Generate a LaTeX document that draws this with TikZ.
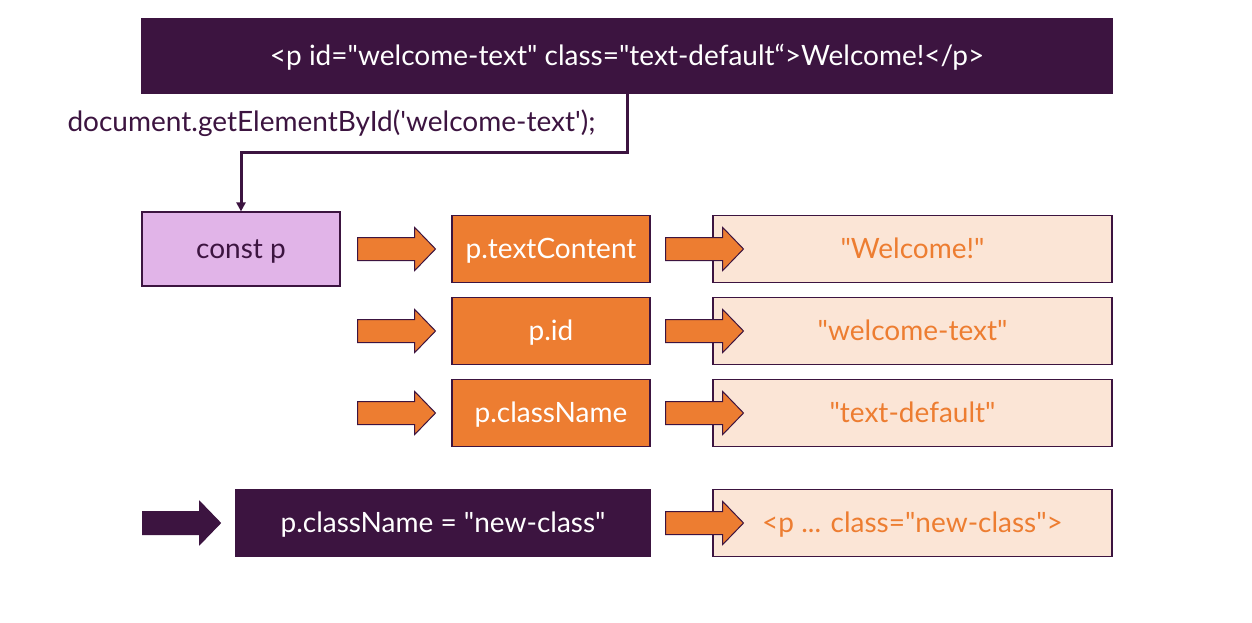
\documentclass[tikz,border=0pt]{standalone}
\usepackage{fontspec}
\setmainfont{Lato}[Ligatures=TeXOff]
\usetikzlibrary{positioning, arrows.meta, shapes.arrows}

\definecolor{darkplum}{HTML}{3C1440}
\definecolor{lilac}{HTML}{E1B4E8}
\definecolor{tangerine}{HTML}{ED7D31}
\definecolor{peach}{HTML}{FBE5D6}

\begin{document}
\begin{tikzpicture}[
    x=1pt, y=-1pt,
    texto/.style={font=\fontsize{28}{32}\selectfont, text height=20pt, text depth=2pt},
    caja/.style={
        rectangle,
        texto,
        draw=darkplum,
        line width=1.2pt,
        align=center,
        inner sep=2pt,
    },
    caja_oscura/.style={caja, fill=darkplum, text=white}, % cajas moradas
    caja_prop/.style={caja, fill=tangerine, text=white, minimum width=198pt, minimum height=67pt},
    caja_valor/.style={caja, fill=peach, text=tangerine, minimum width=399pt, minimum height=67pt},
    flecha/.style={
        single arrow,
        anchor=tail,
        draw=darkplum,
        line width=1pt,
        fill=tangerine,
        inner xsep=0pt,
        inner ysep=11pt,
        minimum height=78pt,
        minimum width=42pt,
        single arrow head extend=10pt,
        single arrow tip angle=92,
    },
    flecha_oscura/.style={flecha, fill=darkplum},
    conn/.style={-{Triangle[length=9pt, width=9pt]}, line width=3pt, draw=darkplum}
]

% Fondo
\path[fill=white] (0,0) rectangle (1252,622);

% Nodos
\node[caja_oscura, minimum width=970pt, minimum height=74pt] (html) at (627,56)
    {<p id="welcome-text" class="text-default“>Welcome!</p>};
\node[texto, anchor=west, text=darkplum] (getid) at (64,122)
    {document.getElementById('welcome-text');};
\node[caja, fill=lilac, text=darkplum, minimum width=198pt, minimum height=74pt] (constp) at (241,249) {const p};

\node[caja_prop] (textcontent) at (551,249) {p.textContent};
\node[caja_prop] (pid) at (551,331) {p.id};
\node[caja_prop] (classname) at (551,413) {p.className};

\node[caja_valor] (welcome) at (912.5,249) {"Welcome!"};
\node[caja_valor] (welcometext) at (912.5,331) {"welcome-text"};
\node[caja_valor] (textdefault) at (912.5,413) {"text-default"};

\node[caja_oscura, minimum width=414pt, minimum height=67pt] (setclass) at (443,523) {p.className = "new-class"};
\node[caja_valor] (newclass) at (912.5,523) {<p ... class="new-class">};

% Flechas de bloque
\foreach \nombre/\y in {uno/249, dos/331, tres/413}{
    \node[flecha] (izq\nombre) at (357,\y) {};
    \node[flecha] (der\nombre) at (665,\y) {};
}
\node[flecha_oscura] (izqcuatro) at (142,523) {};
\node[flecha] (dercuatro) at (665,523) {};

% Conexion
\coordinate (codo) at (627,152);
\draw[conn] (html.south -| codo) -- (codo) -| (constp.north);

\end{tikzpicture}
\end{document}
